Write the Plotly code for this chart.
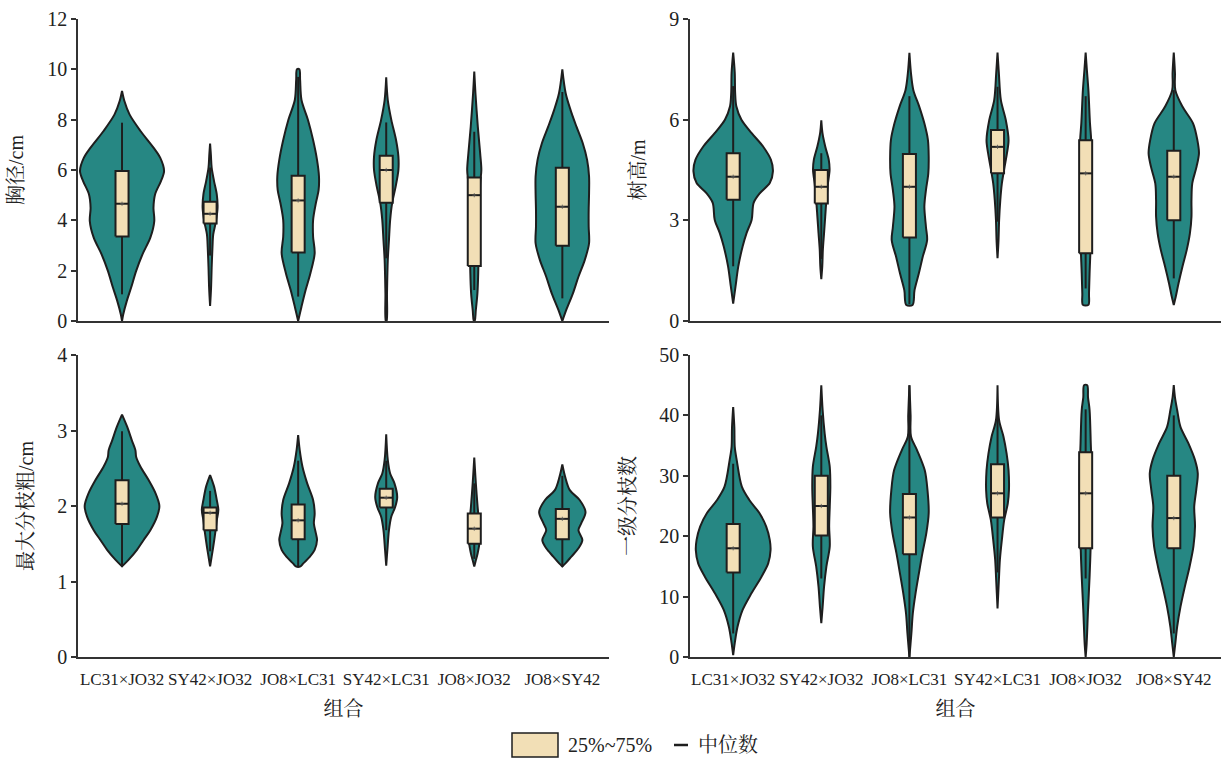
import plotly.graph_objects as go

categories = ["LC31×JO32", "SY42×JO32", "JO8×LC31", "SY42×LC31", "JO8×JO32", "JO8×SY42"]

# ---------- 胸径 / cm ----------
dbh_prof_y = [
    [0, 0.26, 0.79, 1.32, 1.99, 2.65, 3.31, 3.97, 4.5, 5.03, 5.56, 5.96, 6.49, 6.89, 7.55, 8.21, 8.74, 9.14],
    [0.6, 1.32, 2.12, 2.91, 3.44, 3.97, 4.5, 5.03, 5.56, 6.09, 6.6, 7.05],
    [0, 0.57, 1.23, 1.89, 2.69, 3.35, 4.01, 4.68, 5.2, 5.74, 6.4, 7.19, 7.99, 8.78, 9.58, 10.0],
    [0, 1.1, 2.42, 3.22, 4.01, 4.68, 5.34, 6.0, 6.53, 7.19, 7.99, 8.78, 9.68],
    [0, 0.44, 1.1, 1.89, 2.95, 3.75, 4.81, 5.47, 6.0, 6.66, 7.72, 9.05, 9.91],
    [0, 0.44, 1.1, 1.76, 2.42, 3.09, 3.75, 4.41, 5.07, 5.74, 6.4, 7.06, 7.72, 8.38, 9.05, 10.0],
]
dbh_prof_w = [
    [0, 3, 12, 23, 36, 52, 72, 82, 80, 84, 99, 107, 97, 80, 47, 19, 6, 0],
    [0, 2.5, 4, 6, 8, 15, 19, 17, 10, 4, 2, 0],
    [0, 8.5, 19, 31, 42, 38, 38, 45, 52, 53, 48, 38, 25, 8.5, 5, 3],
    [1, 2, 4, 7, 10, 15, 24, 31, 31, 25, 13, 4, 0],
    [1, 4, 8, 10, 11, 11, 14, 15, 18, 15, 9, 3, 0],
    [0, 10, 27, 41, 57, 68, 67, 67, 68, 68, 63, 52, 36, 21, 8.5, 0],
]
dbh_q1 = [3.36, 3.87, 2.72, 4.7, 2.19, 2.99]
dbh_med = [4.66, 4.26, 4.79, 6.0, 5.0, 4.54]
dbh_q3 = [5.96, 4.74, 5.77, 6.57, 5.7, 6.09]
dbh_lo = [1.06, 2.6, 0.97, 2.49, 1.23, 0.9]
dbh_hi = [7.88, 6.1, 9.7, 7.89, 7.52, 9.1]

# ---------- 树高 / m ----------
ht_prof_y = [
    [0.52, 1.03, 1.63, 2.22, 2.62, 3.02, 3.52, 3.81, 4.11, 4.46, 4.8, 5.2, 5.6, 6.0, 6.4, 6.8, 7.4, 8.0],
    [1.25, 1.63, 2.13, 2.62, 3.12, 3.61, 4.11, 4.5, 4.8, 5.2, 5.6, 5.98],
    [0.48, 0.92, 1.42, 1.92, 2.41, 2.81, 3.41, 3.9, 4.4, 4.9, 5.4, 5.89, 6.39, 6.88, 7.38, 7.99],
    [1.87, 2.41, 3.0, 3.6, 4.1, 4.6, 5.0, 5.39, 5.99, 6.58, 7.38, 8.0],
    [0.48, 0.82, 1.42, 2.41, 3.41, 4.4, 5.39, 5.89, 6.88, 7.5, 8.0],
    [0.48, 0.72, 1.12, 1.62, 2.12, 2.61, 3.11, 3.6, 4.1, 4.6, 5.0, 5.39, 5.89, 6.39, 6.88, 7.4, 8.0],
]
ht_prof_w = [
    [0, 6, 13, 24, 34, 47, 52, 68, 93, 101, 96, 76, 47, 21, 8, 5, 4, 0],
    [0, 2.5, 4, 7, 10, 13, 17, 21, 19, 10, 3, 0],
    [8, 13, 24, 34, 45, 42, 38, 42, 48, 49, 47, 38, 25, 10, 4, 0],
    [0, 2.5, 4, 7, 11, 18, 24, 28, 21, 8.5, 3.4, 0],
    [7, 8.5, 10, 13, 13, 14, 14, 11, 7, 3, 0],
    [0, 5, 12, 22, 33, 41, 45, 45, 47, 58, 64, 60, 49, 22, 4, 3, 0],
]
ht_q1 = [3.61, 3.5, 2.49, 4.4, 2.02, 3.0]
ht_med = [4.3, 4.0, 4.0, 5.19, 4.4, 4.3]
ht_q3 = [5.0, 4.5, 4.98, 5.69, 5.39, 5.07]
ht_lo = [1.63, 1.85, 0.5, 2.96, 0.97, 1.27]
ht_hi = [7.0, 5.0, 6.7, 6.98, 6.7, 6.88]

# ---------- 最大分枝粗 / cm ----------
bd_prof_y = [
    [1.2, 1.29, 1.42, 1.55, 1.68, 1.86, 2.0, 2.17, 2.34, 2.52, 2.65, 2.74, 2.87, 3.05, 3.21],
    [1.2, 1.33, 1.46, 1.64, 1.81, 1.95, 2.08, 2.26, 2.41],
    [1.2, 1.24, 1.33, 1.42, 1.55, 1.64, 1.77, 1.9, 2.08, 2.3, 2.52, 2.74, 2.94],
    [1.21, 1.42, 1.68, 1.86, 1.99, 2.12, 2.3, 2.43, 2.61, 2.95],
    [1.2, 1.28, 1.37, 1.55, 1.73, 1.99, 2.3, 2.64],
    [1.2, 1.24, 1.33, 1.44, 1.55, 1.68, 1.77, 1.92, 2.08, 2.21, 2.39, 2.55],
]
bd_prof_w = [
    [0, 17, 38, 55, 72, 89, 95, 85, 68, 47, 36, 34, 25, 13, 0],
    [0, 4, 8, 13, 17, 21, 17, 10, 0],
    [6, 13, 30, 42, 48, 45, 40, 42, 38, 23, 11, 4, 0],
    [0, 3, 7, 13, 23, 28, 21, 10, 4, 0],
    [0, 4, 8.5, 14, 13, 8.5, 4, 0],
    [0, 8, 23, 41, 51, 41, 48, 59, 44, 19, 7, 0],
]
bd_q1 = [1.76, 1.68, 1.56, 1.98, 1.5, 1.56]
bd_med = [2.03, 1.91, 1.81, 2.11, 1.7, 1.83]
bd_q3 = [2.34, 1.98, 2.02, 2.23, 1.9, 1.96]
bd_lo = [1.2, 1.4, 1.2, 1.68, 1.3, 1.2]
bd_hi = [2.99, 2.2, 2.6, 2.6, 2.3, 2.4]

# ---------- 一级分枝数 ----------
pb_prof_y = [
    [0.3, 2.3, 5.0, 7.8, 10.5, 13.3, 15.5, 17.7, 19.4, 21.6, 23.8, 26.0, 28.2, 32.6, 34.8, 38, 41.4],
    [5.6, 8.3, 11.6, 15, 18.3, 21.6, 24.9, 28.2, 31.5, 34.8, 37, 40.9, 45],
    [0, 3.9, 7.2, 10.5, 13.8, 17.2, 20.5, 23.8, 27.6, 30.9, 34.3, 36.5, 40, 45],
    [8.05, 12.7, 16.1, 19.4, 22.7, 25.4, 27.6, 30.9, 33.7, 36.5, 39.2, 45],
    [0, 2.3, 7.8, 13.3, 18.8, 24.3, 29.8, 35.4, 40.9, 43, 45],
    [0, 2.3, 5.0, 8.3, 11.6, 14.9, 18.3, 21.6, 24.9, 27.6, 30.4, 32.6, 35.4, 38.1, 40.9, 43, 45],
]
pb_prof_w = [
    [0, 4, 11, 24, 46, 72, 89, 95, 93, 84, 67, 41, 22, 9, 4, 3, 0],
    [0, 3.4, 7, 13, 21.5, 20, 21.5, 23, 21.5, 13, 8.6, 3.4, 0],
    [0, 5, 8.6, 15.5, 24, 33, 43, 49, 46, 39, 19, 4, 3, 0],
    [0, 3.4, 6, 11, 17, 26, 29, 28, 23, 15, 4, 0],
    [0, 2.6, 6, 10, 13, 14.6, 15.5, 13, 10, 6, 4],
    [0, 4, 8.6, 17, 28, 40, 50, 54, 52, 57, 61, 54, 37, 17, 8.6, 3, 0],
]
pb_q1 = [14, 20.1, 17, 23.1, 18, 18]
pb_med = [18, 25, 23.1, 27.1, 27.1, 23]
pb_q3 = [22, 30, 27, 31.9, 33.9, 30]
pb_lo = [3.9, 13, 0, 14, 13, 3.9]
pb_hi = [32, 40, 45, 40, 41, 40]

# ---------- style ----------
TEAL = "#268783"
WHEAT = "#F2DFB6"
DARK = "#1e1e1e"
AXIS = "#333333"
WIDTH_UNIT = 1 / 224.0   # width readings -> category units
BOX_HALF = 0.074
SERIF = "Liberation Serif, Noto Serif CJK SC, Noto Sans CJK SC, serif"

panels = [
    dict(xa="x", ya="y", py=dbh_prof_y, pw=dbh_prof_w, q1=dbh_q1, med=dbh_med, q3=dbh_q3, lo=dbh_lo, hi=dbh_hi),
    dict(xa="x2", ya="y2", py=ht_prof_y, pw=ht_prof_w, q1=ht_q1, med=ht_med, q3=ht_q3, lo=ht_lo, hi=ht_hi),
    dict(xa="x3", ya="y3", py=bd_prof_y, pw=bd_prof_w, q1=bd_q1, med=bd_med, q3=bd_q3, lo=bd_lo, hi=bd_hi),
    dict(xa="x4", ya="y4", py=pb_prof_y, pw=pb_prof_w, q1=pb_q1, med=pb_med, q3=pb_q3, lo=pb_lo, hi=pb_hi),
]

fig = go.Figure()
for p in panels:
    for i in range(len(categories)):
        ys = p["py"][i]
        ws = [w * WIDTH_UNIT for w in p["pw"][i]]
        xr = [i + w for w in ws]
        xl = [i - w for w in ws][::-1]
        xs = xr + xl + [xr[0]]
        yy = ys + ys[::-1] + [ys[0]]
        fig.add_trace(go.Scatter(
            x=xs, y=yy, mode="lines", fill="toself", fillcolor=TEAL,
            line=dict(color=DARK, width=2, shape="spline", smoothing=0.9),
            xaxis=p["xa"], yaxis=p["ya"], showlegend=False, hoverinfo="skip"))
        fig.add_trace(go.Scatter(
            x=[i, i], y=[p["lo"][i], p["hi"][i]], mode="lines",
            line=dict(color=DARK, width=2),
            xaxis=p["xa"], yaxis=p["ya"], showlegend=False, hoverinfo="skip"))
        q1, q3 = p["q1"][i], p["q3"][i]
        fig.add_trace(go.Scatter(
            x=[i - BOX_HALF, i + BOX_HALF, i + BOX_HALF, i - BOX_HALF, i - BOX_HALF],
            y=[q1, q1, q3, q3, q1], mode="lines", fill="toself", fillcolor=WHEAT,
            line=dict(color=DARK, width=2),
            xaxis=p["xa"], yaxis=p["ya"], showlegend=False, hoverinfo="skip"))
        m = p["med"][i]
        fig.add_trace(go.Scatter(
            x=[i - BOX_HALF, i + BOX_HALF], y=[m, m], mode="lines",
            line=dict(color=DARK, width=2),
            xaxis=p["xa"], yaxis=p["ya"], showlegend=False, hoverinfo="skip"))
        fig.add_trace(go.Scatter(
            x=[i], y=[m], mode="markers",
            marker=dict(symbol="cross-thin", size=3, line=dict(color="#555555", width=0.8)),
            xaxis=p["xa"], yaxis=p["ya"], showlegend=False, hoverinfo="skip"))

# layout geometry
ML, MR, MT, MB = 78, 0, 19, 101
W, H = 1221, 758
PW, PH = W - ML - MR, H - MT - MB
left_dom = [0, (609 - ML) / PW]
right_dom = [(690 - ML) / PW, 1]
top_dom = [(657 - 321) / PH, 1]
bot_dom = [0, (657 - 355) / PH]

def xax(dom, anchor, labels, rng):
    return dict(domain=dom, anchor=anchor, range=rng, showline=True, linecolor=AXIS,
                linewidth=1.5, ticks="outside" if labels else "", ticklen=6, tickcolor="rgba(0,0,0,0)",
                showgrid=False, zeroline=False,
                tickvals=list(range(len(categories))), ticktext=categories,
                showticklabels=labels, tickfont=dict(family=SERIF, size=17, color="#222"),
                title=dict(text="组合" if labels else "", font=dict(family=SERIF, size=20, color="#222"),
                           standoff=14))

def yax(dom, anchor, rng, dt, title):
    return dict(domain=dom, anchor=anchor, range=rng, dtick=dt, showline=True, linecolor=AXIS,
                linewidth=1.5, ticks="outside", ticklen=5, tickwidth=1.5, tickcolor=AXIS,
                showgrid=False, zeroline=False, automargin=False,
                tickfont=dict(family=SERIF, size=20, color="#222"),
                title=dict(text=title, font=dict(family=SERIF, size=20, color="#222"), standoff=18))

LR = [-0.5, 5.53]
RR = [-0.49, 5.536]
fig.update_layout(
    width=W, height=H, margin=dict(l=ML, r=MR, t=MT, b=MB),
    plot_bgcolor="white", paper_bgcolor="white", showlegend=False,
    xaxis=xax(left_dom, "y", False, LR), yaxis=yax(top_dom, "x", [0, 12], 2, "胸径/cm"),
    xaxis2=xax(right_dom, "y2", False, RR), yaxis2=yax(top_dom, "x2", [0, 9], 3, "树高/m"),
    xaxis3=xax(left_dom, "y3", True, LR), yaxis3=yax(bot_dom, "x3", [0, 4], 1, "最大分枝粗/cm"),
    xaxis4=xax(right_dom, "y4", True, RR), yaxis4=yax(bot_dom, "x4", [0, 50], 10, "一级分枝数"),
)

# legend drawn in paper space
def px(xp):
    return (xp - ML) / PW
def py(yp):
    return (H - MB - yp) / PH

fig.add_shape(type="rect", xref="paper", yref="paper", x0=px(512), x1=px(558), y0=py(757), y1=py(733),
              fillcolor=WHEAT, line=dict(color=DARK, width=1.5))
fig.add_annotation(xref="paper", yref="paper", x=px(566), y=py(745), text="25%~75%", showarrow=False,
                   xanchor="left", yanchor="middle", font=dict(family=SERIF, size=20, color="#222"))
fig.add_shape(type="line", xref="paper", yref="paper", x0=px(674), x1=px(688), y0=py(745), y1=py(745),
              line=dict(color=DARK, width=2.5))
fig.add_annotation(xref="paper", yref="paper", x=px(696), y=py(745), text="中位数", showarrow=False,
                   xanchor="left", yanchor="middle", font=dict(family=SERIF, size=20, color="#222"))

fig.write_html("out.html", config={"displayModeBar": False},
               post_script="document.body.style.margin='0';document.body.style.overflow='hidden';")
